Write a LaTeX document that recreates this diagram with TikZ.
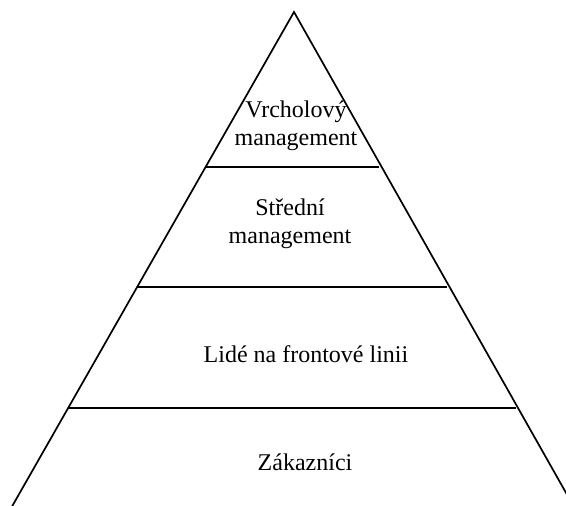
\documentclass[tikz,border=0pt]{standalone}
\usepackage{fontspec}
\setmainfont{Liberation Serif}
\begin{document}
\begin{tikzpicture}[x=1pt,y=-1pt,
  edge/.style={line width=1.7pt, black},
  level/.style={line width=1.7pt, black},
  label/.style={font=\fontsize{24}{27.5}\selectfont, align=center, inner sep=0pt, anchor=base}]
  \useasboundingbox (0,0) rectangle (566,506);
  % pyramid outline
  \coordinate (apex) at (294,12);
  \coordinate (bl) at (10,510);
  \coordinate (br) at (578,514);
  \draw[edge] (bl) -- (apex) -- (br);
  % level separators
  \coordinate (l1a) at (206,167);
  \coordinate (l1b) at (379,167);
  \coordinate (l2a) at (137,287);
  \coordinate (l2b) at (447,287);
  \coordinate (l3a) at (68,408);
  \coordinate (l3b) at (516,408);
  \draw[level] (l1a) -- (l1b);
  \draw[level] (l2a) -- (l2b);
  \draw[level] (l3a) -- (l3b);
  % level labels (base anchor sits on the last line)
  \node[label] (top) at (296,145) {Vrcholový\\management};
  \node[label] (mid) at (290,243) {Střední\\management};
  \node[label] (front) at (306,362) {Lidé na frontové linii};
  \node[label] (cust) at (305,470) {Zákazníci};
\end{tikzpicture}
\end{document}
